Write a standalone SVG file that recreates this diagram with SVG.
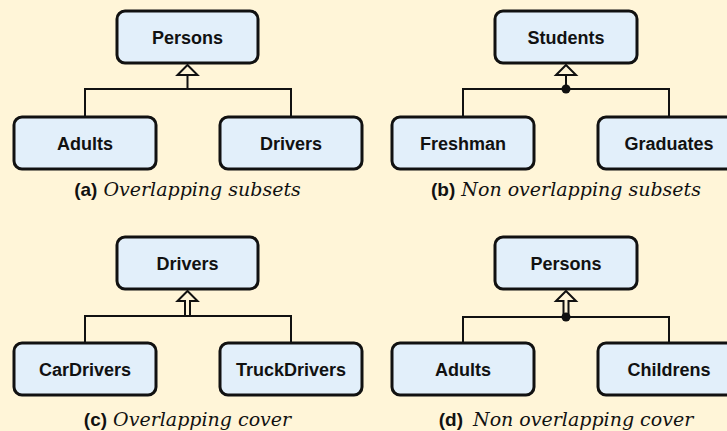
<svg xmlns="http://www.w3.org/2000/svg" width="727" height="431" viewBox="0 0 727 431">
<style>
.node rect{fill:#e2effa;stroke:#111;stroke-width:3}
.node text{font-family:"Liberation Sans",Arial,sans-serif;font-weight:bold;font-size:18px;fill:#111;text-anchor:middle}
.conn path,.conn line{fill:none;stroke:#111;stroke-width:2}
.conn .head{fill:#fff5d8;stroke:#111;stroke-width:2;stroke-linejoin:miter}
.conn circle{fill:#111}
.cap{font-family:"DejaVu Serif","Liberation Serif",serif;font-style:italic;font-size:19px;fill:#111;text-anchor:middle}
.cap .lbl{font-family:"Liberation Sans",Arial,sans-serif;font-style:normal;font-weight:bold;font-size:19px}
</style>
<rect width="727" height="431" fill="#fff5d8"/>
<g class="conn">
  <path d="M85,117 V89 H291 V117 M187.5,89 V75"/>
  <path class="head" d="M187.5,65 L197.5,75 L177.5,75 Z"/>
  <path d="M463,117 V89 H669 V117 M566,89 V75"/>
  <path class="head" d="M566,65 L576,75 L556,75 Z"/>
  <circle cx="566" cy="89" r="4.5"/>
  <path d="M85,343 V316 H291 V343"/>
  <path class="head" d="M187.5,291 L197.5,301 L190,301 L190,316 L185,316 L185,301 L177.5,301 Z"/>
  <path d="M463,343 V317 H669 V343"/>
  <path class="head" d="M566,291 L576,301 L568.5,301 L568.5,317 L563.5,317 L563.5,301 L556,301 Z"/>
  <circle cx="566" cy="317" r="4.5"/>
</g>
<g id="a-persons" class="node"><rect x="117" y="11" width="141" height="52" rx="8"/><text x="187.5" y="44">Persons</text></g>
<g id="a-adults" class="node"><rect x="14" y="117" width="142" height="52" rx="8"/><text x="85" y="150">Adults</text></g>
<g id="a-drivers" class="node"><rect x="220" y="117" width="142" height="52" rx="8"/><text x="291" y="150">Drivers</text></g>
<g id="b-students" class="node"><rect x="495" y="11" width="142" height="52" rx="8"/><text x="566" y="44">Students</text></g>
<g id="b-freshman" class="node"><rect x="392" y="117" width="142" height="52" rx="8"/><text x="463" y="150">Freshman</text></g>
<g id="b-graduates" class="node"><rect x="598" y="117" width="142" height="52" rx="8"/><text x="669" y="150">Graduates</text></g>
<g id="c-drivers" class="node"><rect x="117" y="237" width="141" height="52" rx="8"/><text x="187.5" y="270">Drivers</text></g>
<g id="c-cardrivers" class="node"><rect x="14" y="343" width="142" height="52" rx="8"/><text x="85" y="376">CarDrivers</text></g>
<g id="c-truckdrivers" class="node"><rect x="220" y="343" width="142" height="52" rx="8"/><text x="291" y="376">TruckDrivers</text></g>
<g id="d-persons" class="node"><rect x="495" y="237" width="142" height="52" rx="8"/><text x="566" y="270">Persons</text></g>
<g id="d-adults" class="node"><rect x="392" y="343" width="142" height="52" rx="8"/><text x="463" y="376">Adults</text></g>
<g id="d-childrens" class="node"><rect x="598" y="343" width="142" height="52" rx="8"/><text x="669" y="376">Childrens</text></g>
<text class="cap" x="187.5" y="196"><tspan class="lbl">(a)</tspan> Overlapping subsets</text>
<text class="cap" x="566" y="196"><tspan class="lbl">(b)</tspan> Non overlapping subsets</text>
<text class="cap" x="187.5" y="426"><tspan class="lbl">(c)</tspan> Overlapping cover</text>
<text class="cap" x="566" y="426"><tspan class="lbl">(d)</tspan><tspan dx="10">Non overlapping cover</tspan></text>
</svg>
